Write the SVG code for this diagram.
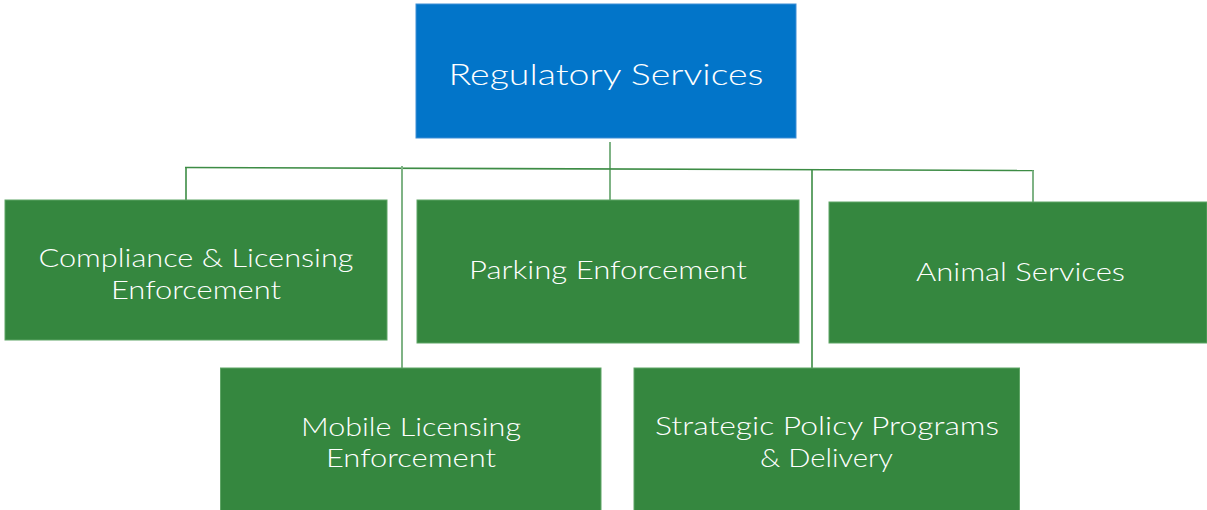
<svg xmlns="http://www.w3.org/2000/svg" width="1207" height="510" viewBox="0 0 1207 510">
<style>
.box{fill:#35873F;stroke:#5fa566;stroke-width:1}
.top{fill:#0275C9;stroke:#3f8fd6;stroke-width:1}
.t{font-family:Lato,"Open Sans","Liberation Sans",sans-serif;fill:#ffffff;text-anchor:middle;font-weight:300}
.c{fill:none;stroke:#3d8c45;stroke-width:1.6}
.cl{fill:none;stroke:#7fb385;stroke-width:2}
</style>
<rect width="1207" height="510" fill="#ffffff"/>
<g id="connectors">
<line class="cl" x1="610" y1="142" x2="610" y2="200"/>
<line class="c" x1="185" y1="167.5" x2="1034" y2="170.5"/>
<line class="c" x1="186" y1="167" x2="186" y2="200"/>
<line class="cl" x1="402" y1="166" x2="402" y2="368"/>
<line class="c" x1="812" y1="169.5" x2="812" y2="368"/>
<line class="cl" x1="1033" y1="170.5" x2="1033" y2="202"/>
</g>
<g id="regulatory-services">
<rect class="top" x="416" y="4" width="380" height="134"/>
<text class="t" x="606" y="85" font-size="30" textLength="315" lengthAdjust="spacingAndGlyphs">Regulatory Services</text>
</g>
<g id="compliance-licensing">
<rect class="box" x="5" y="200" width="382" height="140"/>
<text class="t" x="196" y="267" font-size="25" textLength="315" lengthAdjust="spacingAndGlyphs">Compliance &amp; Licensing</text>
<text class="t" x="196" y="299" font-size="25" textLength="170" lengthAdjust="spacingAndGlyphs">Enforcement</text>
</g>
<g id="parking-enforcement">
<rect class="box" x="417" y="200" width="382" height="143"/>
<text class="t" x="608" y="279" font-size="25" textLength="278" lengthAdjust="spacingAndGlyphs">Parking Enforcement</text>
</g>
<g id="animal-services">
<rect class="box" x="829" y="202" width="378" height="141"/>
<text class="t" x="1020.5" y="281" font-size="25" textLength="209" lengthAdjust="spacingAndGlyphs">Animal Services</text>
</g>
<g id="mobile-licensing">
<rect class="box" x="220.5" y="368" width="380.5" height="145"/>
<text class="t" x="411" y="435.5" font-size="25" textLength="220" lengthAdjust="spacingAndGlyphs">Mobile Licensing</text>
<text class="t" x="411" y="466.5" font-size="25" textLength="170" lengthAdjust="spacingAndGlyphs">Enforcement</text>
</g>
<g id="strategic-policy">
<rect class="box" x="634" y="368" width="385.5" height="145"/>
<text class="t" x="827" y="435" font-size="25" textLength="344" lengthAdjust="spacingAndGlyphs">Strategic Policy Programs</text>
<text class="t" x="826.5" y="466.5" font-size="25" textLength="133" lengthAdjust="spacingAndGlyphs">&amp; Delivery</text>
</g>
</svg>
